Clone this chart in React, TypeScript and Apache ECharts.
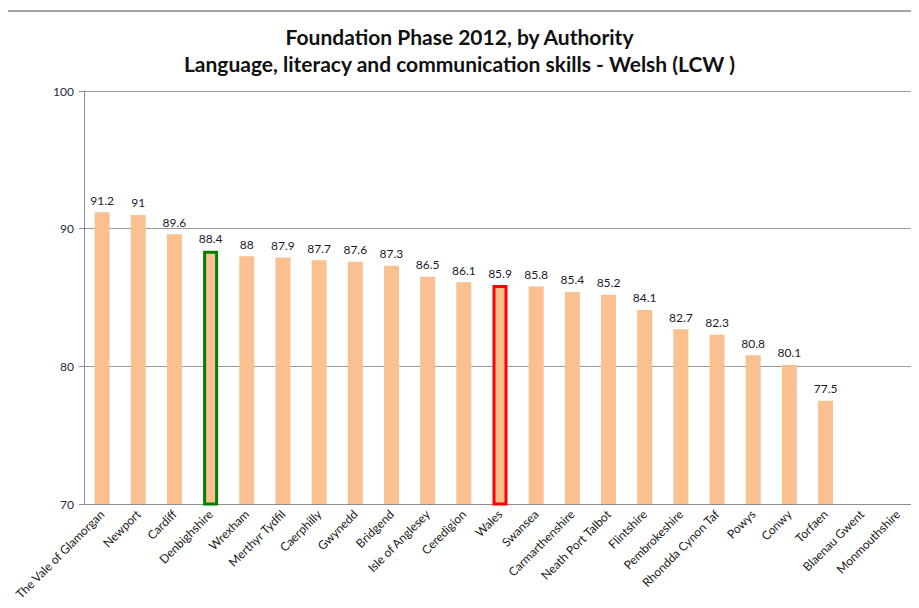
import React, { useEffect, useRef } from "react";
import * as echarts from "echarts";

const categories = [
  "The Vale of Glamorgan", "Newport", "Cardiff", "Denbighshire", "Wrexham",
  "Merthyr Tydfil", "Caerphilly", "Gwynedd", "Bridgend", "Isle of Anglesey",
  "Ceredigion", "Wales", "Swansea", "Carmarthenshire", "Neath Port Talbot",
  "Flintshire", "Pembrokeshire", "Rhondda Cynon Taf", "Powys", "Conwy",
  "Torfaen", "Blaenau Gwent", "Monmouthshire",
];
const values: (number | null)[] = [
  91.2, 91, 89.6, 88.4, 88, 87.9, 87.7, 87.6, 87.3, 86.5, 86.1, 85.9, 85.8,
  85.4, 85.2, 84.1, 82.7, 82.3, 80.8, 80.1, 77.5, null, null,
];
const highlightGreen = ["Denbighshire"];
const highlightRed = ["Wales"];
const yTicks = [70, 80, 90, 100];

export default function App() {
  const ref = useRef<HTMLDivElement>(null);
  useEffect(() => {
    if (!ref.current) return;
    const chart = echarts.init(ref.current, undefined, { renderer: "svg" });
    const font = "Lato";
    const data = values.map((v, i) => {
      const c = categories[i];
      if (highlightGreen.includes(c))
        return { value: v, itemStyle: { borderColor: "#008000", borderWidth: 3 } };
      if (highlightRed.includes(c))
        return { value: v, itemStyle: { borderColor: "#FF0000", borderWidth: 3 } };
      return { value: v };
    });
    chart.setOption({
      animation: false,
      backgroundColor: "#ffffff",
      title: {
        text: "Foundation Phase 2012, by Authority\nLanguage, literacy and communication skills - Welsh (LCW )",
        left: "center",
        top: 18,
        textStyle: {
          fontFamily: font,
          fontWeight: "bold",
          fontSize: 21,
          lineHeight: 27,
          color: "#111111",
        },
      },
      graphic: [
        {
          type: "polyline",
          shape: { points: [[7, 620], [7, 11], [930, 11]] },
          style: { stroke: "#a6a6a6", lineWidth: 2, fill: "none" },
          silent: true,
        },
      ],
      grid: { left: 84, right: 3, top: 91, bottom: 104, containLabel: false },
      xAxis: {
        type: "category",
        data: categories,
        axisLine: { lineStyle: { color: "#8c8c8c", width: 1 } },
        axisTick: { alignWithLabel: false, length: 5, lineStyle: { color: "#8c8c8c" } },
        axisLabel: {
          rotate: 45,
          interval: 0,
          fontFamily: font,
          fontSize: 12,
          color: "#1a1a1a",
          margin: 8,
        },
      },
      yAxis: {
        type: "value",
        min: 70,
        max: 100,
        interval: 10,
        axisLine: { show: true, lineStyle: { color: "#8c8c8c" } },
        axisTick: { show: true, length: 5, lineStyle: { color: "#8c8c8c" } },
        splitLine: { show: true, lineStyle: { color: "#9a9a9a", width: 1 } },
        axisLabel: {
          fontFamily: font,
          fontSize: 12,
          color: "#1f2a44",
          margin: 10,
          formatter: (v: number) => (yTicks.includes(v) ? String(v) : ""),
        },
      },
      series: [
        {
          type: "bar",
          data,
          barWidth: 15,
          itemStyle: { color: "#FAC090" },
          label: {
            show: true,
            position: "top",
            distance: 6,
            fontFamily: font,
            fontSize: 12,
            color: "#1a1a2e",
          },
        },
      ],
    });
    return () => chart.dispose();
  }, []);
  return <div ref={ref} style={{ width: 919, height: 608, margin: -8 }} />;
}
